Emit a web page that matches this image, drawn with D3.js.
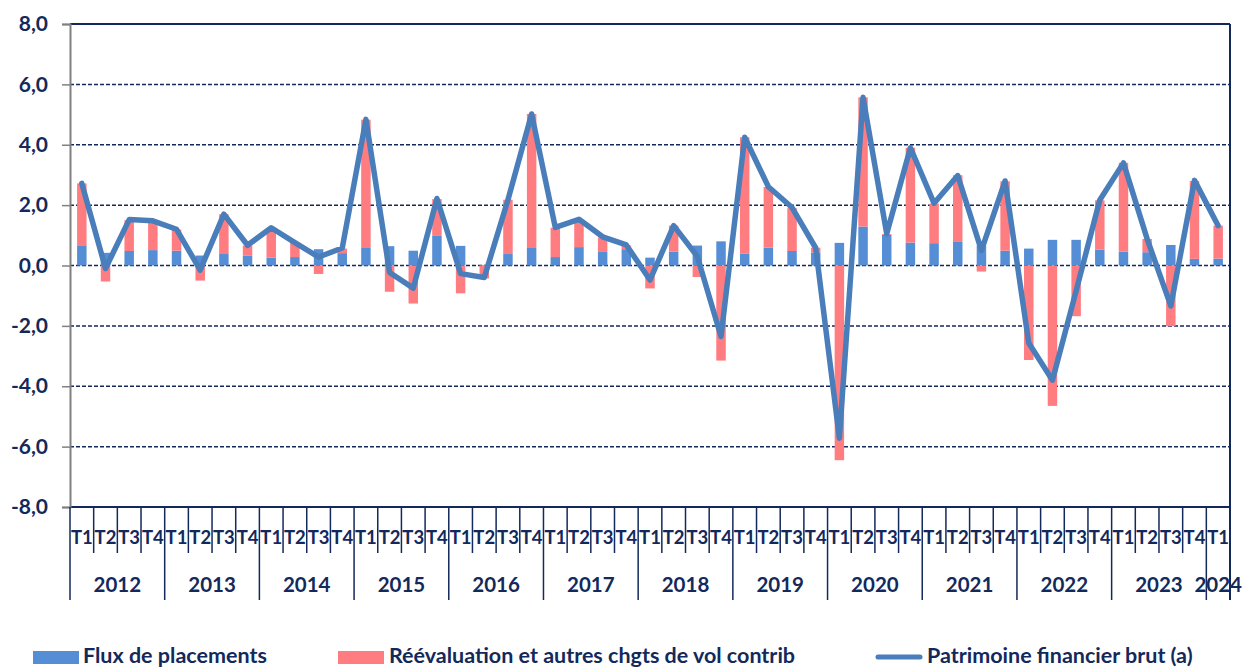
<!DOCTYPE html>
<html>
<head>
<meta charset="utf-8">
<script src="https://d3js.org/d3.v7.min.js"></script>
<style>
  body { margin: 0; background: #fff; }
  svg text { font-family: "Lato", "Open Sans", sans-serif; font-weight: 700; fill: #13295B; }
</style>
</head>
<body>
<div id="chart"></div>
<script>
  // quarters 2012 T1 .. 2024 T1
  const years = [2012, 2013, 2014, 2015, 2016, 2017, 2018, 2019, 2020, 2021, 2022, 2023, 2024];
  const quarterNames = ["T1", "T2", "T3", "T4"];

  const flux = [0.67, 0.42, 0.48, 0.51, 0.49, 0.33, 0.38, 0.32, 0.26, 0.28, 0.54, 0.41,
    0.58, 0.64, 0.49, 0.98, 0.65, 0.02, 0.38, 0.58, 0.28, 0.61, 0.45, 0.54,
    0.26, 0.46, 0.66, 0.80, 0.40, 0.59, 0.48, 0.43, 0.75, 1.29, 1.01, 0.76,
    0.74, 0.78, 0.66, 0.49, 0.56, 0.85, 0.85, 0.53, 0.46, 0.44, 0.68, 0.22, 0.23];

  const reeval = [2.05, -0.53, 1.02, 0.95, 0.70, -0.50, 1.32, 0.34, 0.98, 0.47, -0.28, 0.15,
    4.25, -0.87, -1.26, 1.22, -0.92, -0.43, 1.80, 4.44, 0.97, 0.90, 0.48, 0.12,
    -0.76, 0.86, -0.38, -3.15, 3.85, 2.01, 1.42, 0.16, -6.45, 4.28, 0.03, 3.14,
    1.31, 2.21, -0.20, 2.30, -3.13, -4.65, -1.68, 1.63, 2.94, 0.44, -2.01, 2.58, 1.09];

  const patrimoine = [2.72, -0.10, 1.52, 1.48, 1.20, -0.15, 1.70, 0.67, 1.25, 0.76, 0.28, 0.58,
    4.84, -0.23, -0.75, 2.22, -0.27, -0.40, 2.18, 5.02, 1.26, 1.53, 0.95, 0.68,
    -0.48, 1.32, 0.30, -2.35, 4.25, 2.61, 1.92, 0.58, -5.72, 5.57, 1.05, 3.90,
    2.06, 2.98, 0.50, 2.80, -2.57, -3.80, -0.84, 2.17, 3.40, 0.88, -1.34, 2.82, 1.32];

  const yTicks = [-8, -6, -4, -2, 0, 2, 4, 6, 8];
  const legendLabels = ["Flux de placements", "Réévaluation et autres chgts de vol contrib", "Patrimoine financier brut (a)"];

  const colBlue = "#558ED5", colRed = "#FF7C80", colLine = "#4A7EBB", navy = "#13295B";

  const quarters = [];
  years.forEach(y => quarterNames.forEach(q => quarters.push({ year: y, q: q })));
  quarters.length = flux.length;
  const data = quarters.map((d, i) => ({
    id: i, year: d.year, q: d.q, flux: flux[i], reeval: reeval[i], total: patrimoine[i]
  }));

  const W = 1244, H = 669;
  const plotLeft = 70, plotRight = 1230, plotTop = 24, plotBottom = 507;

  const svg = d3.select("#chart").append("svg").attr("width", W).attr("height", H);

  const x = d3.scaleBand().domain(data.map(d => d.id)).range([plotLeft, plotRight]).paddingInner(0).paddingOuter(0);
  const y = d3.scaleLinear().domain([-8, 8]).range([plotBottom, plotTop]);
  const bw = x.bandwidth() * 0.4;

  // grid lines
  svg.append("g").selectAll("line")
    .data(yTicks.filter(t => t > -8 && t < 8))
    .enter().append("line")
    .attr("x1", plotLeft).attr("x2", plotRight)
    .attr("y1", d => y(d)).attr("y2", d => y(d))
    .attr("stroke", navy).attr("stroke-width", 1.5)
    .attr("stroke-dasharray", "4,2");

  // bars : flux
  svg.append("g").selectAll("rect")
    .data(data)
    .enter().append("rect")
    .attr("x", d => x(d.id) + (x.bandwidth() - bw) / 2)
    .attr("width", bw)
    .attr("y", d => y(Math.max(0, d.flux)))
    .attr("height", d => Math.abs(y(0) - y(d.flux)))
    .attr("fill", colBlue);

  // bars : reevaluation (stacked on flux when positive)
  svg.append("g").selectAll("rect")
    .data(data)
    .enter().append("rect")
    .attr("x", d => x(d.id) + (x.bandwidth() - bw) / 2)
    .attr("width", bw)
    .attr("y", d => d.reeval >= 0 ? y(d.flux + d.reeval) : y(0))
    .attr("height", d => d.reeval >= 0 ? y(d.flux) - y(d.flux + d.reeval) : y(d.reeval) - y(0))
    .attr("fill", colRed);

  // line
  const line = d3.line().x(d => x(d.id) + x.bandwidth() / 2).y(d => y(d.total));
  svg.append("path")
    .datum(data)
    .attr("d", line)
    .attr("fill", "none")
    .attr("stroke", colLine)
    .attr("stroke-width", 5.5)
    .attr("stroke-linejoin", "round")
    .attr("stroke-linecap", "round");

  // frame : top and right borders, bottom axis
  svg.append("line").attr("x1", plotLeft).attr("x2", plotRight).attr("y1", plotTop).attr("y2", plotTop)
    .attr("stroke", navy).attr("stroke-width", 2);
  svg.append("line").attr("x1", plotRight).attr("x2", plotRight).attr("y1", plotTop).attr("y2", 600)
    .attr("stroke", navy).attr("stroke-width", 2);
  svg.append("line").attr("x1", plotLeft).attr("x2", plotRight).attr("y1", plotBottom).attr("y2", plotBottom)
    .attr("stroke", navy).attr("stroke-width", 2);

  // y axis
  const yAxis = d3.axisLeft(y).tickValues(yTicks).tickSize(8).tickPadding(14)
    .tickFormat(d => d3.format(".1f")(d).replace(".", ",").replace("−", "-"));
  const gy = svg.append("g").attr("transform", `translate(${plotLeft},0)`).call(yAxis);
  gy.select(".domain").attr("stroke", "#808080").attr("stroke-width", 2);
  gy.selectAll(".tick line").attr("stroke", "#808080").attr("stroke-width", 1.5);
  gy.selectAll(".tick text").style("font-size", "21px").attr("fill", navy);

  // x axis : quarter dividers and labels
  const gx = svg.append("g");
  gx.selectAll(".qtick")
    .data(data)
    .enter().append("line")
    .attr("x1", d => x(d.id)).attr("x2", d => x(d.id))
    .attr("y1", plotBottom)
    .attr("y2", d => d.q === "T1" ? 600 : 553)
    .attr("stroke", navy).attr("stroke-width", 1.5);

  gx.selectAll(".qlabel")
    .data(data)
    .enter().append("text")
    .attr("x", d => x(d.id) + x.bandwidth() / 2)
    .attr("y", 544)
    .attr("text-anchor", "middle")
    .style("font-size", "18.5px")
    .text(d => d.q);

  gx.selectAll(".ylabel")
    .data(years)
    .enter().append("text")
    .attr("x", yr => {
      const qs = data.filter(d => d.year === yr);
      return (x(qs[0].id) + x(qs[qs.length - 1].id) + x.bandwidth()) / 2;
    })
    .attr("y", 592)
    .attr("text-anchor", "middle")
    .style("font-size", "20.5px")
    .text(yr => yr);

  // legend
  const lg = svg.append("g").style("font-size", "21.5px");
  lg.append("rect").attr("x", 33).attr("y", 651).attr("width", 46).attr("height", 13).attr("fill", colBlue);
  lg.append("text").attr("x", 83).attr("y", 663).text(legendLabels[0]);
  lg.append("rect").attr("x", 338).attr("y", 651).attr("width", 46).attr("height", 13).attr("fill", colRed);
  lg.append("text").attr("x", 389).attr("y", 663).text(legendLabels[1]);
  lg.append("line").attr("x1", 878).attr("x2", 920).attr("y1", 657).attr("y2", 657)
    .attr("stroke", colLine).attr("stroke-width", 5).attr("stroke-linecap", "round");
  lg.append("text").attr("x", 927).attr("y", 663).text(legendLabels[2]);
</script>
</body>
</html>
